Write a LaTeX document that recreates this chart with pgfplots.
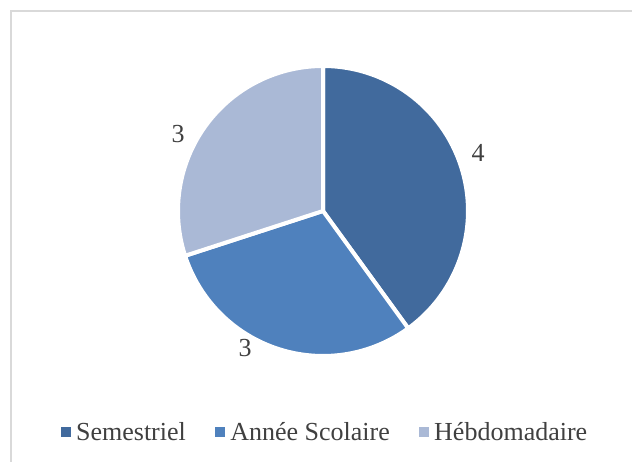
\documentclass[border=0pt]{standalone}
\usepackage{pgfplots}
\usepackage{pgfplotstable}
\pgfplotsset{compat=1.18}
\usepackage{fontspec}
\setmainfont{Liberation Serif}

\definecolor{semcol}{HTML}{416A9D}
\definecolor{anncol}{HTML}{4F81BD}
\definecolor{hebcol}{HTML}{AAB9D6}
\definecolor{txtcol}{HTML}{404040}
\definecolor{framecol}{HTML}{D9D9D9}

\pgfplotstableread{
value
4
3
3
}\piedata

% slice angles, clockwise from the top
\pgfplotstablegetelem{0}{value}\of\piedata \let\va\pgfplotsretval
\pgfplotstablegetelem{1}{value}\of\piedata \let\vb\pgfplotsretval
\pgfplotstablegetelem{2}{value}\of\piedata \let\vc\pgfplotsretval
\pgfmathsetmacro\tot{\va+\vb+\vc}
\pgfmathsetmacro\aA{90}
\pgfmathsetmacro\aB{\aA-360*\va/\tot}
\pgfmathsetmacro\aC{\aB-360*\vb/\tot}
\pgfmathsetmacro\aD{\aC-360*\vc/\tot}

\begin{document}
\begin{tikzpicture}
\begin{axis}[
  width=632pt, height=462pt, scale only axis,
  xmin=0, xmax=632, ymin=0, ymax=462,
  xtick=\empty, ytick=\empty,
  hide axis, clip=false,
  legend columns=3,
  legend style={draw=none, fill=none, at={(axis cs:325,30)}, anchor=center,
    font=\fontsize{26}{31}\selectfont, text=txtcol,
    /tikz/every even column/.append style={column sep=27pt}},
  legend image code/.code={\fill[#1] (0pt,-4.5pt) rectangle (9pt,4.5pt); \path (13pt,0pt);},
]
\coordinate (BL) at (axis cs:0,0);
\coordinate (TR) at (axis cs:632,462);
\draw[framecol, line width=1.5pt] (axis cs:11,0) -- (axis cs:11,451) -- (axis cs:632,451);

\addplot[fill=semcol, draw=white, line width=4pt, line join=round, domain=\aB:\aA, samples=90, forget plot]
  ({323+145*cos(x)},{251+145*sin(x)}) -- (axis cs:323,251) -- cycle;
\addplot[fill=anncol, draw=white, line width=4pt, line join=round, domain=\aC:\aB, samples=90, forget plot]
  ({323+145*cos(x)},{251+145*sin(x)}) -- (axis cs:323,251) -- cycle;
\addplot[fill=hebcol, draw=white, line width=4pt, line join=round, domain=\aD:\aC, samples=90, forget plot]
  ({323+145*cos(x)},{251+145*sin(x)}) -- (axis cs:323,251) -- cycle;

\node[text=txtcol, font=\fontsize{26}{31}\selectfont] at (axis cs:478,309) {\va};
\node[text=txtcol, font=\fontsize{26}{31}\selectfont] at (axis cs:245,114) {\vb};
\node[text=txtcol, font=\fontsize{26}{31}\selectfont] at (axis cs:178,328) {\vc};

\addlegendimage{semcol}
\addlegendimage{anncol}
\addlegendimage{hebcol}
\legend{Semestriel, Année Scolaire, Hébdomadaire}
\end{axis}
\pgfresetboundingbox
\useasboundingbox (BL) rectangle (TR);
\end{tikzpicture}
\end{document}
